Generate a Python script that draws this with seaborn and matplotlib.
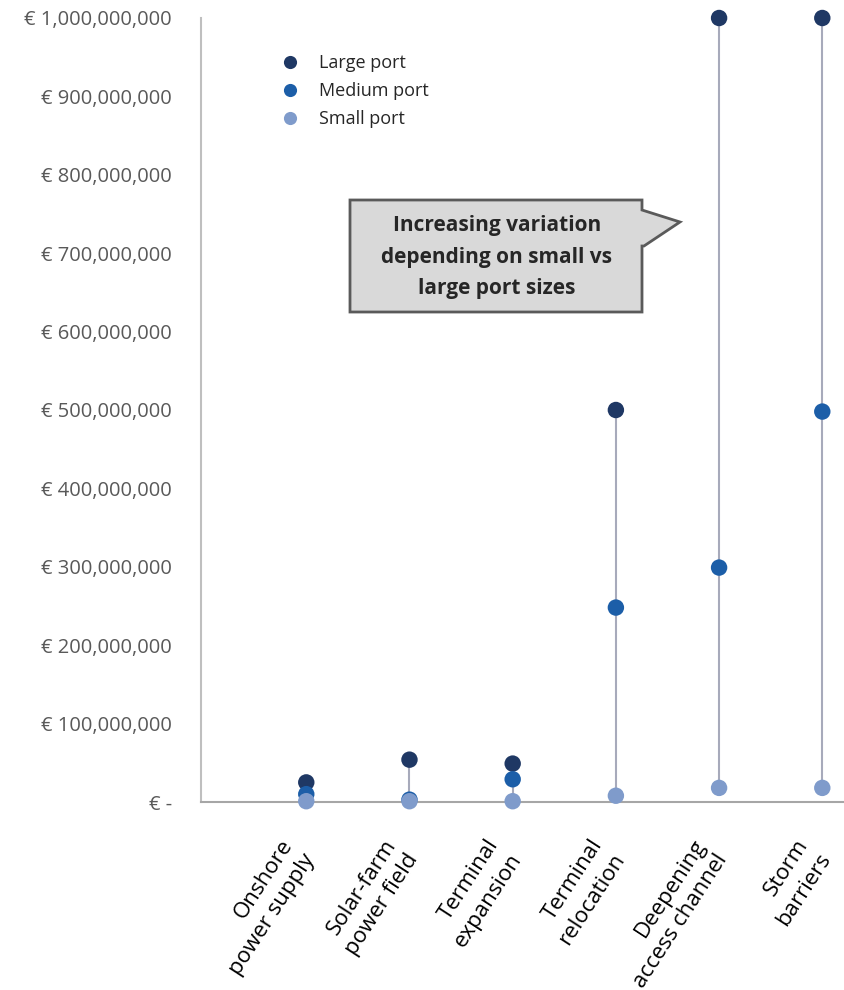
import pandas as pd
import numpy as np
import matplotlib
matplotlib.use("Agg")
import matplotlib.pyplot as plt
import matplotlib.transforms as mtransforms
import seaborn as sns
from matplotlib.patches import Polygon

# data (euros)
categories = ["Onshore\npower supply", "Solar-farm\npower field", "Terminal\nexpansion",
              "Terminal\nrelocation", "Deepening\naccess channel", "Storm\nbarriers"]
large_port = [25e6, 54e6, 49e6, 500e6, 1000e6, 1000e6]
medium_port = [10e6, 3e6, 29e6, 248e6, 299e6, 498e6]
small_port = [1e6, 1e6, 1e6, 8e6, 18e6, 18e6]
sizes = ["Large port", "Medium port", "Small port"]
colors = ["#1f3864", "#1c5ea8", "#7f9bcb"]
yticks = np.arange(0, 1.1e9, 1e8)

df = pd.DataFrame({
    "category": categories * 3,
    "size": [sizes[0]] * 6 + [sizes[1]] * 6 + [sizes[2]] * 6,
    "cost": large_port + medium_port + small_port,
})
df["x"] = df["category"].map({c: i for i, c in enumerate(categories)})

sns.set_style("white")
plt.rcParams["font.family"] = ["Open Sans", "DejaVu Sans"]

fig = plt.figure(figsize=(8.45, 9.9), dpi=100)
ax = fig.add_axes([201 / 845, 1 - 802 / 990, 1 - 201 / 845, (802 - 18) / 990])

# range lines
lo = df.groupby("x")["cost"].min()
hi = df.groupby("x")["cost"].max()
ax.vlines(lo.index, lo.values, hi.values, color="#a7aabb", lw=1.5, zorder=1)

sns.scatterplot(data=df, x="x", y="cost", hue="size", hue_order=sizes,
                palette=colors, s=140, edgecolor="none", ax=ax, zorder=3,
                clip_on=False)

ax.set_xlim(-1.02, 5.22)
ax.set_ylim(0, 1e9)
ax.set_xlabel("")
ax.set_ylabel("")

ax.set_yticks(yticks)
ylabels = ["€ -"] + [f"€ {v:,.0f}" for v in yticks[1:]]
ax.set_yticklabels(ylabels, fontsize=14.5, color="#595959")
ax.tick_params(axis="y", length=0, pad=21)

ax.set_xticks(range(len(categories)))
ax.set_xticklabels(categories, rotation=57, ha="right", va="top",
                   rotation_mode="anchor", fontsize=16, color="black",
                   multialignment="right", linespacing=1.35)
ax.tick_params(axis="x", length=0, pad=24)
shift = mtransforms.ScaledTranslation(-0.27, 0, fig.dpi_scale_trans)
for lab in ax.get_xticklabels():
    lab.set_transform(lab.get_transform() + shift)

for s in ["top", "right"]:
    ax.spines[s].set_visible(False)
ax.spines["left"].set_color("#bfbfbf")
ax.spines["left"].set_linewidth(1.5)
ax.spines["bottom"].set_color("#a6a6a6")
ax.spines["bottom"].set_linewidth(1.5)

leg = ax.legend(loc="upper left", bbox_to_anchor=(0.085, 0.975), frameon=False,
                fontsize=13, handletextpad=0.6, labelspacing=0.56,
                markerscale=0.8)

# callout box
pts = [(350, 200), (642, 200), (642, 210), (680, 222), (644, 246),
       (642, 246), (642, 312), (350, 312)]
pts = [(x / 845, 1 - y / 990) for x, y in pts]
fig.patches.append(Polygon(pts, closed=True, transform=fig.transFigure,
                           facecolor="#d9d9d9", edgecolor="#5a5a5a", lw=2))
fig.text(497 / 845, 1 - 257 / 990,
         "Increasing variation\ndepending on small vs\nlarge port sizes",
         ha="center", va="center", fontsize=15, fontweight="bold",
         linespacing=1.68)

fig.savefig("out.png", dpi=100)
